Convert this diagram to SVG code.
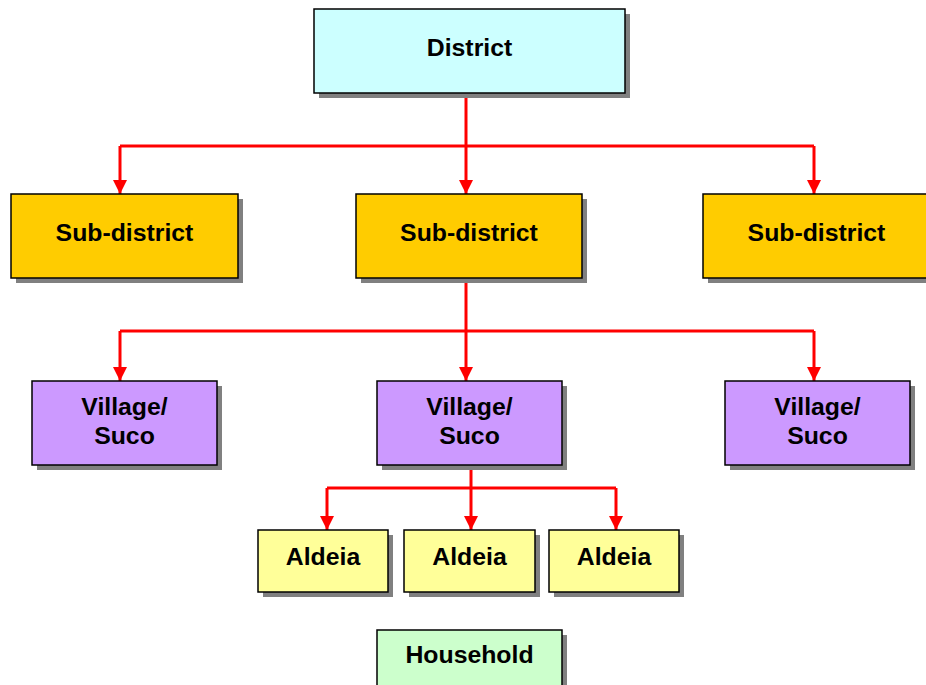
<svg xmlns="http://www.w3.org/2000/svg" width="926" height="685" viewBox="0 0 926 685">
<defs>
<marker id="ah" viewBox="0 0 10 10" refX="10" refY="5" markerWidth="14" markerHeight="14" markerUnits="userSpaceOnUse" orient="auto">
<path d="M0,0 L10,5 L0,10 Z" fill="#FF0000"/>
</marker>
</defs>
<style>
.sh{fill:#808080}
.bx{stroke:#000;stroke-width:1.5}
.t{font-family:"Liberation Sans",Arial,sans-serif;font-weight:bold;font-size:24.8px;text-anchor:middle;fill:#000}
.c{fill:none;stroke:#FF0000;stroke-width:3}
.a{marker-end:url(#ah)}
</style>
<rect width="926" height="685" fill="#fff"/>
<g id="connectors">
<path class="c" d="M466,93 V146"/>
<path class="c" d="M120,146 H814"/>
<path class="c a" d="M120,146 V194"/>
<path class="c a" d="M466,146 V194"/>
<path class="c a" d="M814,146 V194"/>
<path class="c" d="M466,278 V331"/>
<path class="c" d="M120,331 H814"/>
<path class="c a" d="M120,331 V381"/>
<path class="c a" d="M466,331 V381"/>
<path class="c a" d="M814,331 V381"/>
<path class="c" d="M471,465 V488"/>
<path class="c" d="M327,488 H616"/>
<path class="c a" d="M327,488 V530"/>
<path class="c a" d="M471,488 V530"/>
<path class="c a" d="M616,488 V530"/>
</g>
<g id="district">
<rect class="sh" x="319" y="14" width="311" height="84"/>
<rect class="bx" x="314" y="9" width="311" height="84" fill="#CCFFFF"/>
<text class="t" x="469.5" y="56">District</text>
</g>
<g id="subdistrict1">
<rect class="sh" x="16" y="199" width="227" height="84"/>
<rect class="bx" x="11" y="194" width="227" height="84" fill="#FFCC00"/>
<text class="t" x="124.5" y="241">Sub-district</text>
</g>
<g id="subdistrict2">
<rect class="sh" x="361" y="199" width="226" height="84"/>
<rect class="bx" x="356" y="194" width="226" height="84" fill="#FFCC00"/>
<text class="t" x="469" y="241">Sub-district</text>
</g>
<g id="subdistrict3">
<rect class="sh" x="708" y="199" width="227" height="84"/>
<rect class="bx" x="703" y="194" width="227" height="84" fill="#FFCC00"/>
<text class="t" x="816.5" y="241">Sub-district</text>
</g>
<g id="village1">
<rect class="sh" x="37" y="386" width="185" height="84"/>
<rect class="bx" x="32" y="381" width="185" height="84" fill="#CC99FF"/>
<text class="t" x="124.5" y="415">Village/</text>
<text class="t" x="124.5" y="444">Suco</text>
</g>
<g id="village2">
<rect class="sh" x="382" y="386" width="185" height="84"/>
<rect class="bx" x="377" y="381" width="185" height="84" fill="#CC99FF"/>
<text class="t" x="469.5" y="415">Village/</text>
<text class="t" x="469.5" y="444">Suco</text>
</g>
<g id="village3">
<rect class="sh" x="730" y="386" width="185" height="84"/>
<rect class="bx" x="725" y="381" width="185" height="84" fill="#CC99FF"/>
<text class="t" x="817.5" y="415">Village/</text>
<text class="t" x="817.5" y="444">Suco</text>
</g>
<g id="aldeia1">
<rect class="sh" x="263" y="535" width="130" height="62"/>
<rect class="bx" x="258" y="530" width="130" height="62" fill="#FFFF99"/>
<text class="t" x="323" y="565">Aldeia</text>
</g>
<g id="aldeia2">
<rect class="sh" x="409" y="535" width="131" height="62"/>
<rect class="bx" x="404" y="530" width="131" height="62" fill="#FFFF99"/>
<text class="t" x="469.5" y="565">Aldeia</text>
</g>
<g id="aldeia3">
<rect class="sh" x="554" y="535" width="130" height="62"/>
<rect class="bx" x="549" y="530" width="130" height="62" fill="#FFFF99"/>
<text class="t" x="614" y="565">Aldeia</text>
</g>
<g id="household">
<rect class="sh" x="382" y="635" width="185" height="60"/>
<rect class="bx" x="377" y="630" width="185" height="60" fill="#CCFFCC"/>
<text class="t" x="469.5" y="663">Household</text>
</g>
</svg>
